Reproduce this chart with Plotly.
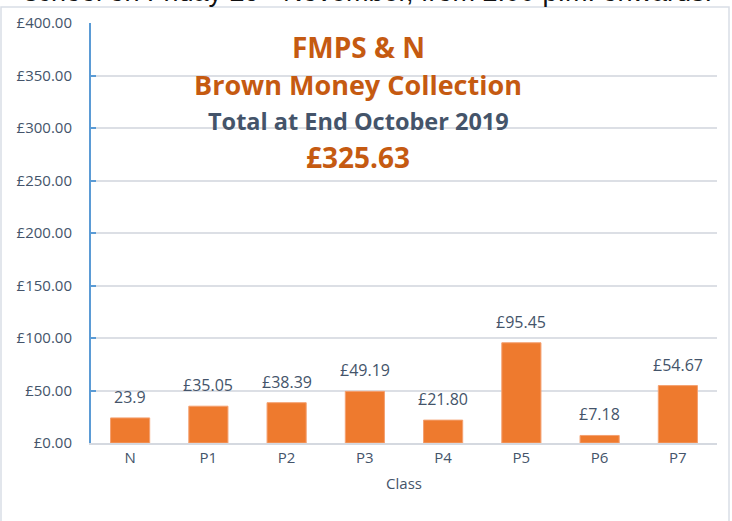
import plotly.graph_objects as go

classes = ["N", "P1", "P2", "P3", "P4", "P5", "P6", "P7"]
amounts = [23.9, 35.05, 38.39, 49.19, 21.80, 95.45, 7.18, 54.67]
bar_labels = ["23.9", "£35.05", "£38.39", "£49.19", "£21.80", "£95.45", "£7.18", "£54.67"]
y_ticks = [0, 50, 100, 150, 200, 250, 300, 350, 400]
y_tick_text = ["£%.2f" % v for v in y_ticks]
title_lines = ["FMPS & N", "Brown Money Collection", "Total at End October 2019", "£325.63"]
top_text = "school on Friday 29<sup>th</sup> November, from 2:00 p.m. onwards."

ORANGE = "#C55A11"
SLATE = "#44546A"
FONT = "'Open Sans', sans-serif"

fig = go.Figure()
fig.add_trace(go.Bar(
    x=classes, y=amounts,
    marker=dict(color="#EE7A2E", line=dict(color="#F4A070", width=1)),
    hoverinfo="x+y",
))

for c, v, t in zip(classes, amounts, bar_labels):
    fig.add_annotation(x=c, y=v, text=t, showarrow=False, yanchor="bottom", yshift=8,
                       font=dict(family=FONT, size=16, color=SLATE))

title_specs = [
    (title_lines[0], 47, 28, ORANGE),
    (title_lines[1], 84, 27, ORANGE),
    (title_lines[2], 121, 23.5, SLATE),
    (title_lines[3], 157, 28, ORANGE),
]
H = 420.0
W = 626.0
for txt, ypix, size, col in title_specs:
    fig.add_annotation(xref="paper", yref="paper", x=(358 - 91) / W, y=(443 - ypix) / H,
                       text="<b>%s</b>" % txt, showarrow=False, xanchor="center", yanchor="middle",
                       font=dict(family=FONT, size=size, color=col))

fig.add_annotation(xref="paper", yref="paper", x=(368 - 91) / W, y=(443 - 9) / H,
                   text=top_text, showarrow=False, xanchor="center", yanchor="bottom",
                   font=dict(family="Liberation Sans, Arial, sans-serif", size=27, color="#111111"))

# outer frame
fig.add_shape(type="rect", xref="paper", yref="paper",
              x0=(1 - 91) / W, x1=(729 - 91) / W, y0=(443 - 530) / H, y1=(443 - 7) / H,
              line=dict(color="#D9DEE6", width=1.5), fillcolor="rgba(0,0,0,0)", layer="below")

fig.update_layout(
    width=732, height=521,
    margin=dict(l=91, r=15, t=23, b=78),
    paper_bgcolor="white", plot_bgcolor="white",
    bargap=0.5, showlegend=False,
    font=dict(family=FONT, color=SLATE),
)
fig.update_yaxes(
    range=[0, 400], tickvals=y_ticks, ticktext=y_tick_text,
    showgrid=True, gridcolor="#DCDFE5", gridwidth=1.5,
    showline=True, linecolor="#5B9BD5", linewidth=2,
    ticks="inside", ticklen=5, tickcolor="#5B9BD5", tickwidth=1.5,
    tickfont=dict(family=FONT, size=15, color=SLATE), ticklabelstandoff=14,
    zeroline=False,
)
fig.update_xaxes(
    showline=True, linecolor="#D5D9E0", linewidth=2,
    tickfont=dict(family=FONT, size=15, color=SLATE),
    title=dict(text="Class", font=dict(family=FONT, size=15, color=SLATE), standoff=12),
)

fig.write_html("out.html", config={"displayModeBar": False},
               post_script="document.body.style.margin='0';document.body.style.overflow='hidden';")
